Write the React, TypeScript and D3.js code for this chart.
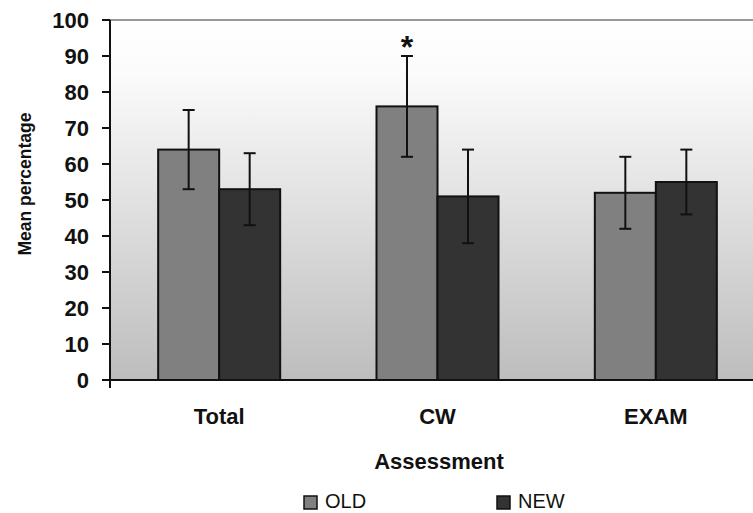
import React from "react";
import * as d3 from "d3";

const categories = ["Total", "CW", "EXAM"];
const seriesNames = ["OLD", "NEW"];
const oldMeans = [64, 76, 52];
const newMeans = [53, 51, 55];
const oldLow = [53, 62, 42];
const oldHigh = [75, 90, 62];
const newLow = [43, 38, 46];
const newHigh = [63, 64, 64];
const yTicks = [0, 10, 20, 30, 40, 50, 60, 70, 80, 90, 100];
const starred = [{ cat: "CW", series: "OLD", mark: "*" }];

const W = 753;
const H = 513;
const margin = { top: 20, right: -12, bottom: 133, left: 110 };
const font = "'Liberation Sans', Arial, sans-serif";

const App = () => {
  const innerW = W - margin.left - margin.right;
  const innerH = H - margin.top - margin.bottom;

  const x = d3.scaleBand().domain(categories).range([0, innerW]).paddingInner(0).paddingOuter(0);
  const barW = 61;
  const xs = d3
    .scaleBand()
    .domain(seriesNames)
    .range([x.bandwidth() / 2 - barW, x.bandwidth() / 2 + barW]);
  const y = d3.scaleLinear().domain([0, 100]).range([innerH, 0]);
  const color = d3.scaleOrdinal<string, string>().domain(seriesNames).range(["#808080", "#333333"]);

  const rows = categories.flatMap((c, i) => [
    { cat: c, series: "OLD", v: oldMeans[i], lo: oldLow[i], hi: oldHigh[i] },
    { cat: c, series: "NEW", v: newMeans[i], lo: newLow[i], hi: newHigh[i] },
  ]);

  const cx = (d: { cat: string; series: string }) =>
    (x(d.cat) as number) + (xs(d.series) as number) + xs.bandwidth() / 2;

  return (
    <svg width={W} height={H} style={{ position: "absolute", left: 0, top: 0, background: "#fff" }}>
      <defs>
        <linearGradient id="bg" x1="0" y1="0" x2="0" y2="1">
          <stop offset="0%" stopColor="#ffffff" />
          <stop offset="15%" stopColor="#fbfbfb" />
          <stop offset="100%" stopColor="#bdbdbd" />
        </linearGradient>
      </defs>
      <g transform={`translate(${margin.left},${margin.top})`}>
        <rect x={0} y={0} width={innerW} height={innerH} fill="url(#bg)" />
        <line x1={0} x2={innerW} y1={0} y2={0} stroke="#999" strokeWidth={2} />

        {rows.map((d, i) => (
          <rect
            key={"b" + i}
            x={cx(d) - barW / 2}
            y={y(d.v)}
            width={barW}
            height={innerH - y(d.v)}
            fill={color(d.series)}
            stroke="#111"
            strokeWidth={2}
          />
        ))}

        {rows.map((d, i) => (
          <g key={"e" + i} stroke="#111" strokeWidth={2}>
            <line x1={cx(d)} x2={cx(d)} y1={y(d.hi)} y2={y(d.lo)} />
            <line x1={cx(d) - 6} x2={cx(d) + 6} y1={y(d.hi)} y2={y(d.hi)} />
            <line x1={cx(d) - 6} x2={cx(d) + 6} y1={y(d.lo)} y2={y(d.lo)} />
          </g>
        ))}

        {starred.map((s, i) => {
          const r = rows.find((d) => d.cat === s.cat && d.series === s.series)!;
          return (
            <text
              key={"s" + i}
              x={cx(r)}
              y={y(r.hi) + 2}
              textAnchor="middle"
              fontFamily={font}
              fontWeight="bold"
              fontSize={32}
              fill="#111"
            >
              {s.mark}
            </text>
          );
        })}

        {/* y axis */}
        <line x1={0} x2={0} y1={0} y2={innerH + 8} stroke="#111" strokeWidth={2} />
        {yTicks.map((t) => (
          <g key={"t" + t} transform={`translate(0,${y(t)})`}>
            <line x1={-8} x2={0} y1={0} y2={0} stroke="#111" strokeWidth={2} />
            <text
              x={-21}
              dy="0.36em"
              textAnchor="end"
              fontFamily={font}
              fontWeight="bold"
              fontSize={22}
              fill="#111"
            >
              {t}
            </text>
          </g>
        ))}
        {/* x axis */}
        <line x1={-8} x2={innerW} y1={innerH} y2={innerH} stroke="#111" strokeWidth={2} />
        {categories.map((c) => (
          <text
            key={"c" + c}
            x={(x(c) as number) + x.bandwidth() / 2}
            y={innerH + 44}
            textAnchor="middle"
            fontFamily={font}
            fontWeight="bold"
            fontSize={22}
            fill="#111"
          >
            {c}
          </text>
        ))}
      </g>

      <text
        x={439}
        y={469}
        textAnchor="middle"
        fontFamily={font}
        fontWeight="bold"
        fontSize={22}
        fill="#111"
      >
        Assessment
      </text>
      <text
        transform="translate(31,184) rotate(-90)"
        textAnchor="middle"
        fontFamily={font}
        fontWeight="bold"
        fontSize={17.5}
        fill="#111"
      >
        Mean percentage
      </text>

      {seriesNames.map((s, i) => {
        const lx = i === 0 ? 303 : 496;
        return (
          <g key={"l" + s}>
            <rect x={lx + 1} y={496} width={13} height={13} fill={color(s)} stroke="#111" strokeWidth={1.5} />
            <text x={lx + 22} y={508} fontFamily={font} fontSize={20} fill="#111">
              {s}
            </text>
          </g>
        );
      })}
    </svg>
  );
};

export default App;
